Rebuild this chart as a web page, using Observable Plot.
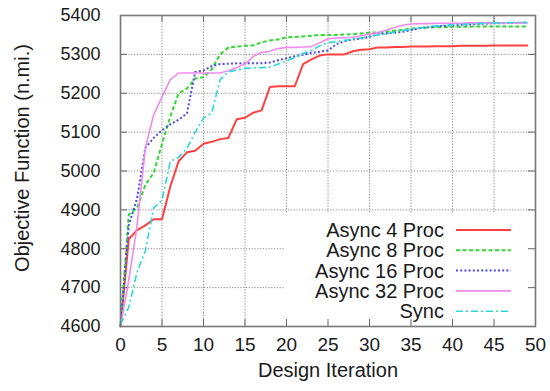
<!DOCTYPE html>
<html>
<head>
<meta charset="utf-8">
<script src="https://cdn.jsdelivr.net/npm/d3@7"></script>
<script src="https://cdn.jsdelivr.net/npm/@observablehq/plot@0.6"></script>
<style>
  html, body { margin: 0; padding: 0; background: white; }
</style>
</head>
<body>
<div id="chart"></div>
<script>
const iterations = [0,1,2,3,4,5,6,7,8,9,10,11,12,13,14,15,16,17,18,19,20,21,22,23,24,25,26,27,28,29,30,31,32,33,34,35,36,37,38,39,40,41,42,43,44,45,46,47,48,49];

const async4 = [4600,4825,4848,4860,4876,4876,4960,5025,5048,5052,5070,5075,5082,5085,5133,5137,5150,5156,5216,5218,5218,5218,5275,5287,5297,5300,5300,5300,5308,5312,5313,5318,5318,5319,5319,5320,5320,5320,5321,5321,5321,5322,5322,5322,5322,5323,5323,5323,5323,5323];
const async8 = [4600,4888,4905,4965,4995,5070,5140,5200,5212,5238,5241,5262,5300,5318,5320,5322,5323,5331,5336,5338,5344,5345,5346,5348,5350,5350,5350,5351,5352,5354,5356,5356,5358,5361,5363,5366,5368,5369,5370,5370,5371,5371,5371,5372,5372,5372,5372,5372,5372,5372];
const async16 = [4600,4860,4930,5060,5085,5105,5120,5132,5148,5255,5258,5270,5275,5276,5277,5277,5277,5277,5279,5285,5290,5295,5299,5304,5307,5310,5326,5334,5338,5341,5345,5352,5354,5356,5358,5362,5367,5370,5372,5373,5375,5376,5377,5378,5379,5380,5380,5381,5381,5382];
const async32 = [4600,4720,4860,5060,5145,5190,5235,5252,5252,5252,5252,5252,5252,5258,5266,5275,5295,5305,5308,5315,5318,5318,5319,5320,5330,5340,5342,5343,5344,5348,5352,5356,5362,5369,5375,5378,5379,5379,5380,5380,5380,5380,5381,5381,5381,5381,5381,5381,5381,5381];
const sync = [4605,4650,4740,4795,4905,4925,5025,5035,5058,5100,5136,5150,5235,5255,5260,5264,5265,5266,5267,5275,5283,5292,5302,5310,5322,5330,5333,5336,5339,5342,5346,5350,5353,5357,5361,5365,5368,5371,5373,5375,5376,5377,5378,5379,5380,5381,5381,5382,5382,5382];

const seriesNames = ["Async 4 Proc", "Async 8 Proc", "Async 16 Proc", "Async 32 Proc", "Sync"];
const seriesValues = [async4, async8, async16, async32, sync];
const seriesColors = ["#ff4040", "#2fd92f", "#4a4af0", "#ee8cee", "#2ad8d8"];
const seriesDash = [null, "4,2.5", "2,2.2", null, "7,3,2,3"];
const seriesWidth = [2, 2, 2, 1.6, 1.6];

const xTicks = [0,5,10,15,20,25,30,35,40,45,50];
const yTicks = [4600,4700,4800,4900,5000,5100,5200,5300,5400];

const xTitle = "Design Iteration";
const yTitle = "Objective Function (n.mi.)";

const W = 550, H = 391, mL = 120, mR = 15, mT = 15, mB = 65;
const innerW = W - mL - mR, innerH = H - mT - mB;
const tickLen = 7;

const tables = seriesValues.map((vals, i) =>
  iterations.map((it, j) => ({series: seriesNames[i], x: it, y: vals[j]}))
);

const font = "'Liberation Sans', Arial, Helvetica, sans-serif";

const chart = Plot.plot({
  width: W, height: H,
  marginLeft: mL, marginRight: mR, marginTop: mT, marginBottom: mB,
  style: {fontFamily: font, color: "#1a1a1a", background: "white", overflow: "visible"},
  x: {domain: [0, 50]},
  y: {domain: [4600, 5400]},
  marks: [
    Plot.gridX(xTicks, {stroke: "#8a8a8a", strokeOpacity: 1, strokeDasharray: "1.2,1.6"}),
    Plot.gridY(yTicks, {stroke: "#8a8a8a", strokeOpacity: 1, strokeDasharray: "1.2,1.6"}),
    Plot.axisX(xTicks, {tickSize: 0, tickPadding: 11, fontSize: 19, label: null, tickFormat: d => String(d)}),
    Plot.axisY(yTicks, {tickSize: 0, tickPadding: 20, fontSize: 18, label: null, tickFormat: d => String(d)}),
    ...tables.map((t, i) => Plot.line(t, {
      x: "x", y: "y",
      stroke: seriesColors[i],
      strokeWidth: seriesWidth[i],
      strokeDasharray: seriesDash[i],
      strokeLinecap: seriesDash[i] ? "butt" : "round",
      strokeLinejoin: "round"
    })),
    Plot.ruleY(yTicks, {insetRight: innerW - tickLen, stroke: "#666", strokeWidth: 1}),
    Plot.ruleY(yTicks, {insetLeft: innerW - tickLen, stroke: "#666", strokeWidth: 1}),
    Plot.ruleX(xTicks, {insetTop: innerH - tickLen, stroke: "#666", strokeWidth: 1}),
    Plot.ruleX(xTicks, {insetBottom: innerH - tickLen, stroke: "#666", strokeWidth: 1}),
    Plot.frame({stroke: "#777", strokeWidth: 1.6}),
    Plot.text([xTitle], {frameAnchor: "bottom", textAnchor: "middle", dy: 50, fontSize: 20, fill: "#1a1a1a"}),
    Plot.text([yTitle], {frameAnchor: "left", textAnchor: "middle", dx: -98, dy: -13, rotate: -90, fontSize: 20, fill: "#1a1a1a"})
  ]
});

document.getElementById("chart").appendChild(chart);

// Legend (inserted beneath the tick marks and frame, like gnuplot's opaque key)
const svg = d3.select(chart);
const lg = svg.insert("g", 'g[aria-label="rule"]').attr("class", "legend");
lg.append("rect")
  .attr("x", 284).attr("y", 212)
  .attr("width", W - mR - 284).attr("height", H - mB - 212)
  .attr("fill", "white");
seriesNames.forEach((name, i) => {
  const cy = 230 + i * 20.3;
  lg.append("text")
    .attr("x", 444).attr("y", cy).attr("dy", "0.35em")
    .attr("text-anchor", "end")
    .attr("font-family", font).attr("font-size", 20).attr("fill", "#1a1a1a")
    .text(name);
  lg.append("line")
    .attr("x1", 456).attr("x2", 511).attr("y1", cy).attr("y2", cy)
    .attr("stroke", seriesColors[i])
    .attr("stroke-width", seriesWidth[i])
    .attr("stroke-dasharray", seriesDash[i]);
});
</script>
</body>
</html>
